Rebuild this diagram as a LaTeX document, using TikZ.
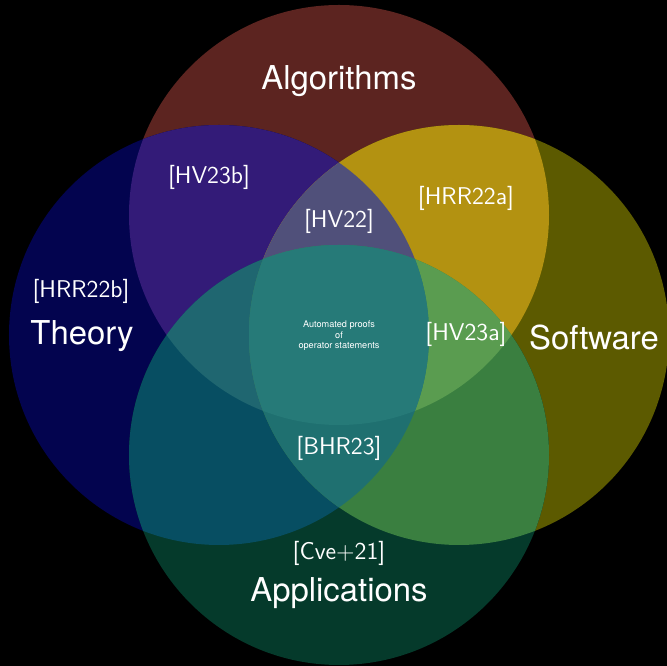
\documentclass[tikz,border=0pt]{standalone}
\usepackage{fontspec}
\usepackage{xcolor}
\usetikzlibrary{positioning}
\newfontfamily\heros{TeX Gyre Heros}

% single areas
\definecolor{algo}{HTML}{5C2420}
\definecolor{theo}{HTML}{03044F}
\definecolor{soft}{HTML}{5C5A00}
\definecolor{appl}{HTML}{053A2B}
% two areas
\definecolor{algotheo}{HTML}{331B78}
\definecolor{algosoft}{HTML}{B39211}
\definecolor{theoappl}{HTML}{074E62}
\definecolor{softappl}{HTML}{3A7F40}
% three and four areas
\definecolor{algotheosoft}{HTML}{50507A}
\definecolor{algosoftappl}{HTML}{5A9C50}
\definecolor{theosoftappl}{HTML}{1F7070}
\definecolor{algotheoappl}{HTML}{1F6670}
\definecolor{allfour}{HTML}{267A78}

\newcommand{\algocirc}{(0,2.4) circle (4.2)}
\newcommand{\theocirc}{(-2.4,0) circle (4.2)}
\newcommand{\softcirc}{(2.4,0) circle (4.2)}
\newcommand{\applcirc}{(0,-2.4) circle (4.2)}

\tikzset{
  area/.style={text=white, font=\heros\fontsize{18.7}{20}\selectfont},
  cite/.style={text=white, font=\sffamily\fontsize{13.8}{15}\selectfont},
}

\begin{document}
\begin{tikzpicture}
				% background
				\fill[black] (-6.78,-6.62) rectangle (6.56,6.7);
				\useasboundingbox (-6.78,-6.62) rectangle (6.56,6.7);
				
				% draw the four circles
				\fill[algo] \algocirc;
				\fill[theo] \theocirc;
				\fill[soft] \softcirc;
				\fill[appl] \applcirc;
				
				% draw overlaps of two circles
				\begin{scope}
					\clip \algocirc;
					\fill[algotheo] \theocirc;
					\fill[algosoft] \softcirc;
				\end{scope}
				\begin{scope}
					\clip \applcirc;
					\fill[theoappl] \theocirc;
					\fill[softappl] \softcirc;
				\end{scope}
				
				% draw overlaps of three circles
				\begin{scope}
					\clip \algocirc;
					\clip \theocirc;
					\fill[algotheosoft] \softcirc;
					\fill[algotheoappl] \applcirc;
				\end{scope}
				\begin{scope}
					\clip \softcirc;
					\clip \applcirc;
					\fill[algosoftappl] \algocirc;
					\fill[theosoftappl] \theocirc;
				\end{scope}
				
				% draw overlap of all four
				\begin{scope}
					\clip \algocirc;
					\clip \theocirc;
					\clip \softcirc;
					\fill[allfour] \applcirc;
				\end{scope}
				
				% draw area names
				\node[area] (algorithms) at (0,5.08) {Algorithms};
				\node[area] (theory) at (-5.14,-0.02) {Theory};
				\node[area] (software) at (5.1,-0.05) {Software};
				\node[area] (applications) at (0,-5.16) {Applications};
				
				% draw references
				\node[cite] (hvb) at (-2.6,3.16) {[HV23b]};
				\node[cite] (hv) at (0,2.28) {[HV22]};
				\node[cite] (hrra) at (2.54,2.74) {[HRR22a]};
				\node[cite] (hrrb) at (-5.16,0.88) {[HRR22b]};
				\node[cite] (hva) at (2.54,0.02) {[HV23a]};
				\node[cite] (bhr) at (0,-2.26) {[BHR23]};
				\node[cite] (cve) at (0,-4.36) {[Cve+21]};
				
				% draw centre text
				\node[text=white, align=center, font=\heros\fontsize{5.2}{6}\selectfont] (centre) at (0,-0.02) {Automated proofs\\of\\operator statements};
			\end{tikzpicture}
\end{document}
